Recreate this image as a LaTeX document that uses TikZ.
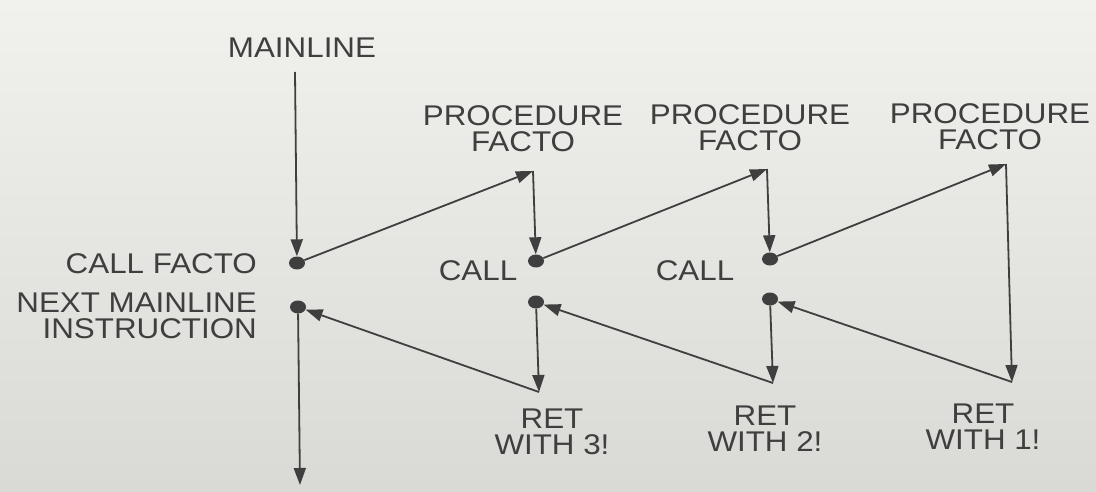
\documentclass[tikz,border=0pt]{standalone}
\usepackage{fontspec}
\setmainfont{Liberation Sans}[FakeStretch=1.1]
\usetikzlibrary{arrows.meta,shapes.geometric}
\definecolor{paperhi}{HTML}{F1F1ED}
\definecolor{paperlo}{HTML}{D9D9D5}
\definecolor{ink}{HTML}{3F3F3F}

\begin{document}
\begin{tikzpicture}[x=1pt,y=-1pt]
					\shade[top color=paperhi,bottom color=paperlo] (0,0) rectangle (1096,492);
					\useasboundingbox (0,0) rectangle (1096,492);

					\begin{scope}[every node/.style={text=ink,font=\fontsize{28.5}{26}\selectfont,align=center,inner sep=0pt}]
						\node (main) at (302,48) {MAINLINE};
						\node (proc1) at (523,129) {PROCEDURE\\FACTO};
						\node (proc2) at (750,128) {PROCEDURE\\FACTO};
						\node (proc3) at (990,127) {PROCEDURE\\FACTO};
						\node [anchor=east] (callfacto) at (257,264) {CALL FACTO};
						\node [anchor=east,align=right] (next) at (257,316) {NEXT MAINLINE\\INSTRUCTION};
						\node (call1) at (478,271) {CALL};
						\node (call2) at (695,271) {CALL};
						\node (ret3) at (552,432) {RET\\WITH 3!};
						\node (ret2) at (765,429) {RET\\WITH 2!};
						\node (ret1) at (983,427) {RET\\WITH 1!};
					\end{scope}

					\begin{scope}[every node/.style={ellipse,fill=ink,inner sep=0pt,minimum width=16pt,minimum height=13pt}]
						\node (c0) at (297,263) {};
						\node (r0) at (298,307) {};
						\node (c1) at (536,261) {};
						\node (r1) at (536,302) {};
						\node (c2) at (770,259) {};
						\node (r2) at (770,299) {};
					\end{scope}

					\coordinate (mtop) at (295,72);
					\coordinate (mbot) at (300,485);
					\coordinate (t1) at (533,171);
					\coordinate (b1) at (539,392);
					\coordinate (t2) at (767,169);
					\coordinate (b2) at (773,383);
					\coordinate (t3) at (1006,164);
					\coordinate (b3) at (1012,382);

					\begin{scope}[every edge/.style={draw=ink,line width=1.8pt,-{Triangle[length=17pt,width=12pt]}}]
						\path (mtop) edge (c0)
						      (c0) edge (t1)
						      (t1) edge (c1)
						      (c1) edge (t2)
						      (t2) edge (c2)
						      (c2) edge (t3)
						      (t3) edge (b3)
						      (b3) edge (r2)
						      (r2) edge (b2)
						      (b2) edge (r1)
						      (r1) edge (b1)
						      (b1) edge (r0)
						      (r0) edge (mbot);
					\end{scope}
				\end{tikzpicture}
\end{document}
